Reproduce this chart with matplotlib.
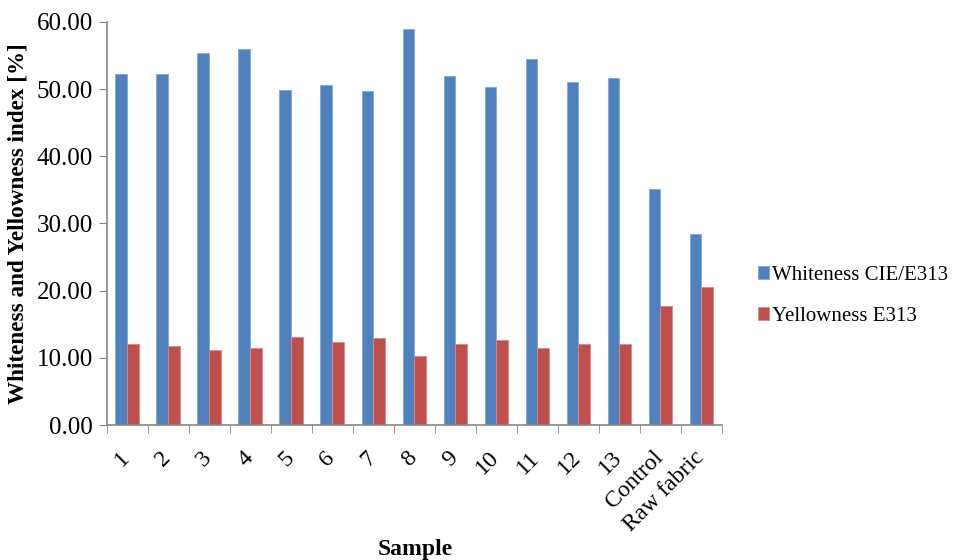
import numpy as np
import matplotlib.pyplot as plt
import matplotlib.transforms as mtransforms
from matplotlib.ticker import FixedLocator, FormatStrFormatter

plt.rcParams['font.family'] = ['Liberation Serif', 'DejaVu Serif']

samples = ['1', '2', '3', '4', '5', '6', '7', '8', '9', '10', '11', '12', '13',
           'Control', 'Raw fabric']
whiteness = [52.3, 52.3, 55.4, 55.9, 49.9, 50.6, 49.7, 58.9, 52.0, 50.3, 54.5,
             51.1, 51.6, 35.1, 28.4]
yellowness = [12.0, 11.7, 11.2, 11.5, 13.1, 12.3, 13.0, 10.3, 12.1, 12.7, 11.4,
              12.1, 12.1, 17.7, 20.5]

blue = '#4F81BD'
red = '#C0504D'
axis_grey = '#868686'

fig = plt.figure(figsize=(9.61, 5.6), dpi=100)
ax = fig.add_axes([0.111, 0.241, 0.640, 0.720])

x = np.arange(len(samples))
w = 0.285
ax.bar(x - w / 2, whiteness, w, color=blue, edgecolor='#7FA6D6', linewidth=0.6,
       label='Whiteness CIE/E313')
ax.bar(x + w / 2, yellowness, w, color=red, edgecolor='#D98886', linewidth=0.6,
       label='Yellowness E313')

ax.set_xlim(-0.5, len(samples) - 0.5)
ax.set_ylim(0, 60)
ax.set_yticks(np.arange(0, 61, 10))
ax.yaxis.set_major_formatter(FormatStrFormatter('%.2f'))

# category labels centred on bars, tick marks on the boundaries
ax.set_xticks(x)
ax.set_xticklabels(samples, rotation=45, ha='right', rotation_mode='anchor')
ax.xaxis.set_minor_locator(FixedLocator(np.arange(-0.5, len(samples), 1.0)))
ax.tick_params(axis='x', which='major', length=0, pad=16, labelsize=17)
ax.tick_params(axis='x', which='minor', length=6, color=axis_grey, direction='out')
ax.tick_params(axis='y', length=6, color=axis_grey, labelsize=18, pad=4)

# nudge the rotated labels a little to the left
shift = mtransforms.ScaledTranslation(-8 / 100, 0, fig.dpi_scale_trans)
for lbl in ax.get_xticklabels():
    lbl.set_transform(lbl.get_transform() + shift)

for side in ['top', 'right']:
    ax.spines[side].set_visible(False)
for side in ['left', 'bottom']:
    ax.spines[side].set_color(axis_grey)
    ax.spines[side].set_linewidth(1.2)

ax.set_ylabel('Whiteness and Yellowness index [%]', fontsize=16.7, fontweight='bold',
              labelpad=6)
fig.text(0.432, 0.0, 'Sample', fontsize=17, fontweight='bold', ha='center',
         va='bottom')

ax.legend(loc='center left', bbox_to_anchor=(1.028, 0.32), frameon=False,
          fontsize=15, handlelength=0.55, handleheight=0.55, handletextpad=0.15,
          labelspacing=1.05)

fig.savefig('out.png', dpi=100)
